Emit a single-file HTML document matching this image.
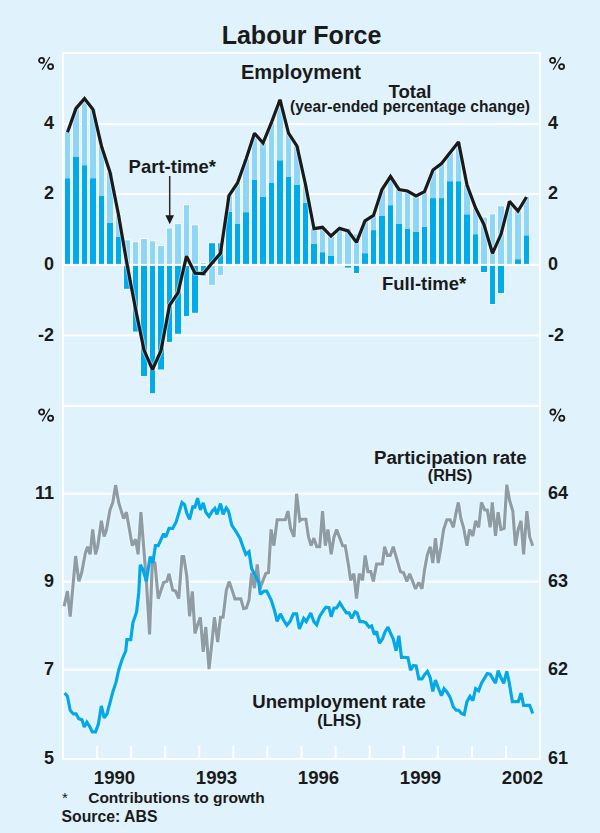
<!DOCTYPE html><html><head><meta charset="utf-8"><style>html,body{margin:0;padding:0;background:#E0F3FC}svg{display:block}text{font-family:"Liberation Sans",sans-serif;font-weight:bold;fill:#1A1A1A}</style></head><body>
<svg width="600" height="833" viewBox="0 0 600 833">
<rect x="0" y="0" width="600" height="833" fill="#E0F3FC"/>
<g fill="#FFFFFF"><rect x="62" y="52" width="479" height="2"/><rect x="62" y="123.1" width="479" height="2"/><rect x="62" y="193" width="479" height="2"/><rect x="62" y="334.4" width="479" height="2"/><rect x="62" y="404.9" width="479" height="2"/><rect x="62" y="492.7" width="479" height="2"/><rect x="62" y="580.7" width="479" height="2"/><rect x="62" y="668.7" width="479" height="2"/><rect x="62" y="758" width="479" height="2"/><rect x="61.9" y="52" width="2" height="708"/><rect x="539" y="52" width="2" height="708"/><rect x="96.05" y="745.9" width="2" height="12.1"/><rect x="130.13" y="745.9" width="2" height="12.1"/><rect x="164.21" y="745.9" width="2" height="12.1"/><rect x="198.29" y="745.9" width="2" height="12.1"/><rect x="232.37" y="745.9" width="2" height="12.1"/><rect x="266.45" y="745.9" width="2" height="12.1"/><rect x="300.53" y="745.9" width="2" height="12.1"/><rect x="334.61" y="745.9" width="2" height="12.1"/><rect x="368.69" y="745.9" width="2" height="12.1"/><rect x="402.77" y="745.9" width="2" height="12.1"/><rect x="436.85" y="745.9" width="2" height="12.1"/><rect x="470.93" y="745.9" width="2" height="12.1"/><rect x="505.01" y="745.9" width="2" height="12.1"/></g>
<g fill="#F4FAFE"><rect x="64" y="131.2" width="7" height="134.8"/><rect x="72" y="107.4" width="8" height="158.6"/><rect x="81" y="97.6" width="7" height="168.4"/><rect x="89" y="108.5" width="8" height="157.5"/><rect x="98" y="145.2" width="7" height="120.8"/><rect x="106" y="171.2" width="8" height="94.8"/><rect x="115" y="213.7" width="7" height="52.3"/><rect x="123" y="239.3" width="8" height="50.5"/><rect x="132" y="241.2" width="7" height="91.4"/><rect x="140" y="238.1" width="8" height="138.9"/><rect x="149" y="240.3" width="7" height="153.9"/><rect x="157" y="245.1" width="8" height="125.4"/><rect x="166" y="227.4" width="7" height="115.6"/><rect x="174" y="223.1" width="8" height="111.7"/><rect x="183" y="204.2" width="7" height="112.8"/><rect x="191" y="224.3" width="8" height="89.5"/><rect x="200" y="262" width="7" height="14.6"/><rect x="208" y="242.2" width="8" height="43.7"/><rect x="217" y="242.2" width="7" height="33.9"/><rect x="225" y="194.5" width="8" height="71.5"/><rect x="234" y="182" width="7" height="84"/><rect x="242" y="158.2" width="8" height="107.8"/><rect x="251" y="132.2" width="7" height="133.8"/><rect x="259" y="142" width="8" height="124"/><rect x="268" y="121.4" width="7" height="144.6"/><rect x="276" y="98.7" width="8" height="167.3"/><rect x="285" y="132.2" width="7" height="133.8"/><rect x="293" y="145.2" width="8" height="120.8"/><rect x="302" y="183.5" width="7" height="82.5"/><rect x="310" y="227.7" width="8" height="38.3"/><rect x="319" y="226.3" width="7" height="39.7"/><rect x="327" y="235" width="8" height="31"/><rect x="336" y="227.4" width="7" height="38.6"/><rect x="344" y="227.4" width="8" height="41.2"/><rect x="353" y="233.4" width="7" height="40.6"/><rect x="361" y="219.8" width="8" height="46.2"/><rect x="370" y="214.4" width="7" height="51.6"/><rect x="378" y="188.5" width="8" height="77.5"/><rect x="387" y="175.5" width="7" height="90.5"/><rect x="395" y="188.5" width="8" height="77.5"/><rect x="404" y="190" width="7" height="76"/><rect x="412" y="195" width="8" height="71"/><rect x="421" y="190.6" width="7" height="75.4"/><rect x="429" y="169" width="8" height="97"/><rect x="438" y="162.5" width="7" height="103.5"/><rect x="446" y="151.7" width="8" height="114.3"/><rect x="455" y="140.9" width="7" height="125.1"/><rect x="463" y="184.1" width="8" height="81.9"/><rect x="472" y="206.8" width="7" height="59.2"/><rect x="480" y="216.6" width="8" height="56.4"/><rect x="489" y="213.3" width="7" height="91.7"/><rect x="497" y="205.3" width="8" height="88.7"/><rect x="506" y="200.4" width="7" height="65.6"/><rect x="514" y="210" width="8" height="56"/><rect x="523" y="196" width="7" height="70"/></g>
<g fill="#00ABEC"><rect x="65" y="178.2" width="5" height="86.8"/><rect x="73" y="157" width="6" height="108"/><rect x="82" y="165.2" width="5" height="99.8"/><rect x="90" y="178.2" width="6" height="86.8"/><rect x="99" y="196" width="5" height="69"/><rect x="107" y="223" width="6" height="42"/><rect x="116" y="237" width="5" height="28"/><rect x="124" y="265" width="6" height="23.8"/><rect x="133" y="265" width="5" height="66.6"/><rect x="141" y="265" width="6" height="111"/><rect x="150" y="265" width="5" height="128.2"/><rect x="158" y="265" width="6" height="104.5"/><rect x="167" y="265" width="5" height="77"/><rect x="175" y="265" width="6" height="68.8"/><rect x="184" y="265" width="5" height="51"/><rect x="192" y="265" width="6" height="47.8"/><rect x="201" y="265" width="5" height="10.6"/><rect x="209" y="243.2" width="6" height="21.8"/><rect x="218" y="243.2" width="5" height="21.8"/><rect x="226" y="212" width="6" height="53"/><rect x="235" y="224" width="5" height="41"/><rect x="243" y="212.2" width="6" height="52.8"/><rect x="252" y="179.7" width="5" height="85.3"/><rect x="260" y="197" width="6" height="68"/><rect x="269" y="183" width="5" height="82"/><rect x="277" y="160.3" width="6" height="104.7"/><rect x="286" y="176.9" width="5" height="88.1"/><rect x="294" y="184.7" width="6" height="80.3"/><rect x="303" y="202.9" width="5" height="62.1"/><rect x="311" y="244" width="6" height="21"/><rect x="320" y="252.2" width="5" height="12.8"/><rect x="328" y="256" width="6" height="9"/><rect x="345" y="265" width="6" height="2.6"/><rect x="354" y="265" width="5" height="8"/><rect x="362" y="253.2" width="6" height="11.8"/><rect x="371" y="230.1" width="5" height="34.9"/><rect x="379" y="216" width="6" height="49"/><rect x="388" y="205.2" width="5" height="59.8"/><rect x="396" y="224" width="6" height="41"/><rect x="405" y="229" width="5" height="36"/><rect x="413" y="232" width="6" height="33"/><rect x="422" y="226.9" width="5" height="38.1"/><rect x="430" y="198.1" width="6" height="66.9"/><rect x="439" y="198.1" width="5" height="66.9"/><rect x="447" y="181.2" width="6" height="83.8"/><rect x="456" y="181.2" width="5" height="83.8"/><rect x="464" y="214.3" width="6" height="50.7"/><rect x="473" y="234.2" width="5" height="30.8"/><rect x="481" y="265" width="6" height="7"/><rect x="490" y="265" width="5" height="39"/><rect x="498" y="265" width="6" height="28"/><rect x="515" y="259.2" width="6" height="5.8"/><rect x="524" y="235.3" width="5" height="29.7"/></g>
<g fill="#8DD6F6"><rect x="65" y="132.2" width="5" height="46"/><rect x="73" y="108.4" width="6" height="48.6"/><rect x="82" y="98.6" width="5" height="66.6"/><rect x="90" y="109.5" width="6" height="68.7"/><rect x="99" y="146.2" width="5" height="49.8"/><rect x="107" y="172.2" width="6" height="50.8"/><rect x="116" y="214.7" width="5" height="22.3"/><rect x="124" y="240.3" width="6" height="24.7"/><rect x="133" y="242.2" width="5" height="22.8"/><rect x="141" y="239.1" width="6" height="25.9"/><rect x="150" y="241.3" width="5" height="23.7"/><rect x="158" y="246.1" width="6" height="18.9"/><rect x="167" y="228.4" width="5" height="36.6"/><rect x="175" y="224.1" width="6" height="40.9"/><rect x="184" y="205.2" width="5" height="59.8"/><rect x="192" y="225.3" width="6" height="39.7"/><rect x="201" y="263" width="5" height="2"/><rect x="209" y="265" width="6" height="19.9"/><rect x="218" y="265" width="5" height="10.1"/><rect x="226" y="195.5" width="6" height="16.5"/><rect x="235" y="183" width="5" height="41"/><rect x="243" y="159.2" width="6" height="53"/><rect x="252" y="133.2" width="5" height="46.5"/><rect x="260" y="143" width="6" height="54"/><rect x="269" y="122.4" width="5" height="60.6"/><rect x="277" y="99.7" width="6" height="60.6"/><rect x="286" y="133.2" width="5" height="43.7"/><rect x="294" y="146.2" width="6" height="38.5"/><rect x="303" y="184.5" width="5" height="18.4"/><rect x="311" y="228.7" width="6" height="15.3"/><rect x="320" y="227.3" width="5" height="24.9"/><rect x="328" y="236" width="6" height="20"/><rect x="337" y="228.4" width="5" height="36.6"/><rect x="345" y="228.4" width="6" height="36.6"/><rect x="354" y="234.4" width="5" height="30.6"/><rect x="362" y="220.8" width="6" height="32.4"/><rect x="371" y="215.4" width="5" height="14.7"/><rect x="379" y="189.5" width="6" height="26.5"/><rect x="388" y="176.5" width="5" height="28.7"/><rect x="396" y="189.5" width="6" height="34.5"/><rect x="405" y="191" width="5" height="38"/><rect x="413" y="196" width="6" height="36"/><rect x="422" y="191.6" width="5" height="35.3"/><rect x="430" y="170" width="6" height="28.1"/><rect x="439" y="163.5" width="5" height="34.6"/><rect x="447" y="152.7" width="6" height="28.5"/><rect x="456" y="141.9" width="5" height="39.3"/><rect x="464" y="185.1" width="6" height="29.2"/><rect x="473" y="207.8" width="5" height="26.4"/><rect x="481" y="217.6" width="6" height="47.4"/><rect x="490" y="214.3" width="5" height="50.7"/><rect x="498" y="206.3" width="6" height="58.7"/><rect x="507" y="201.4" width="5" height="63.6"/><rect x="515" y="211" width="6" height="48.2"/><rect x="524" y="197" width="5" height="38.3"/></g>
<rect x="62" y="263.9" width="478" height="2" fill="#FFFFFF"/>
<polyline fill="none" stroke="#F4FAFE" stroke-width="5" stroke-linejoin="miter" stroke-miterlimit="2" stroke-opacity="0.5" points="67.50,132.20 76.00,108.40 84.50,98.60 93.00,109.50 101.50,146.20 110.00,172.20 118.50,214.70 127.00,264.10 135.50,308.80 144.00,350.10 152.50,369.50 161.00,350.60 169.50,305.40 178.00,292.90 186.50,256.20 195.00,273.10 203.50,273.60 212.00,263.10 220.50,253.30 229.00,195.50 237.50,183.00 246.00,159.20 254.50,133.20 263.00,143.00 271.50,122.40 280.00,99.70 288.50,133.20 297.00,146.20 305.50,184.50 314.00,228.70 322.50,227.30 331.00,236.00 339.50,228.40 348.00,231.00 356.50,242.40 365.00,220.80 373.50,215.40 382.00,189.50 390.50,176.50 399.00,189.50 407.50,191.00 416.00,196.00 424.50,191.60 433.00,170.00 441.50,163.50 450.00,152.70 458.50,141.90 467.00,185.10 475.50,207.80 484.00,224.60 492.50,253.30 501.00,234.30 509.50,201.40 518.00,211.00 526.50,197.00"/>
<polyline fill="none" stroke="#1A1A1A" stroke-width="3.2" stroke-linejoin="miter" stroke-miterlimit="2" points="67.50,132.20 76.00,108.40 84.50,98.60 93.00,109.50 101.50,146.20 110.00,172.20 118.50,214.70 127.00,264.10 135.50,308.80 144.00,350.10 152.50,369.50 161.00,350.60 169.50,305.40 178.00,292.90 186.50,256.20 195.00,273.10 203.50,273.60 212.00,263.10 220.50,253.30 229.00,195.50 237.50,183.00 246.00,159.20 254.50,133.20 263.00,143.00 271.50,122.40 280.00,99.70 288.50,133.20 297.00,146.20 305.50,184.50 314.00,228.70 322.50,227.30 331.00,236.00 339.50,228.40 348.00,231.00 356.50,242.40 365.00,220.80 373.50,215.40 382.00,189.50 390.50,176.50 399.00,189.50 407.50,191.00 416.00,196.00 424.50,191.60 433.00,170.00 441.50,163.50 450.00,152.70 458.50,141.90 467.00,185.10 475.50,207.80 484.00,224.60 492.50,253.30 501.00,234.30 509.50,201.40 518.00,211.00 526.50,197.00"/>
<polyline fill="none" stroke="#F2F9FE" stroke-opacity="0.6" stroke-width="5.2" stroke-linejoin="miter" stroke-miterlimit="2" points="64.16,606.22 67.41,591.08 70.22,616.59 75.62,556.05 78.86,581.35 81.46,573.78 85.35,553.24 87.51,546.76 90.11,554.32 92.70,529.46 95.51,554.32 97.68,546.76 101.35,520.81 104.16,536.59 106.32,530.54 110.00,510.00 112.81,502.43 115.62,485.14 118.65,502.43 123.62,518.65 126.43,512.16 132.27,545.68 135.51,539.19 138.11,554.32 140.92,512.16 146.32,580.27 149.57,634.32 152.38,560.81 154.97,562.97 158.22,598.65 163.62,582.43 166.86,581.35 169.03,573.78 172.70,590.00 175.51,591.08 178.76,598.65 182.00,556.49 183.73,556.49 186.76,575.95 189.57,616.22 192.38,591.35 194.97,633.51 197.57,624.86 200.38,617.30 203.19,651.89 205.78,627.03 209.03,669.19 211.84,643.24 214.43,617.30 217.68,642.16 220.49,617.30 223.08,617.30 226.32,590.27 229.14,581.62 232.16,590.27 234.97,598.92 238.22,598.92 240.81,598.92 243.62,608.65 246.43,608.00 249.03,600.00 251.62,572.97 254.43,588.11 257.24,564.32 259.84,589.19 263.08,580.27 265.89,573.35 268.49,572.70 271.08,529.46 273.89,545.68 277.14,519.73 281.46,519.73 285.35,519.73 287.95,511.08 290.54,528.38 294.00,537.03 296.59,493.78 299.84,520.81 302.00,519.30 305.89,519.30 308.49,537.03 311.08,545.68 313.89,538.11 316.70,546.76 319.73,546.76 322.54,511.08 325.35,545.68 327.95,529.46 331.19,554.32 334.00,537.03 336.59,529.46 339.84,538.11 342.65,545.68 345.24,545.68 348.49,565.14 350.65,580.27 353.89,573.78 356.49,598.65 359.30,573.78 362.54,580.27 365.14,555.41 367.95,571.62 370.76,571.62 373.35,581.35 376.59,564.05 379.84,564.05 382.43,564.05 384.59,546.76 387.41,555.41 390.22,555.41 393.24,546.76 396.70,558.65 400.38,571.62 403.62,572.70 406.86,581.35 409.68,573.78 412.27,580.27 415.51,588.92 418.76,582.43 422.00,588.92 424.59,569.46 427.41,554.32 430.22,546.76 432.81,562.97 435.41,538.11 438.22,562.97 441.03,546.76 443.62,529.46 446.86,519.73 450.11,519.73 453.35,527.30 456.16,512.16 458.32,502.43 460.92,518.65 463.51,527.30 466.97,545.68 469.57,529.46 472.81,535.95 475.62,520.81 478.65,527.30 481.46,502.43 484.70,510.00 487.30,510.00 490.11,527.30 492.27,502.43 495.51,535.95 498.11,512.16 500.92,529.46 504.16,528.38 506.76,484.70 509.57,500.27 512.81,511.08 515.41,545.68 518.22,529.46 521.03,520.81 523.62,554.32 526.86,511.08 529.68,537.03 532.70,545.68"/>
<polyline fill="none" stroke="#F2F9FE" stroke-opacity="0.6" stroke-width="5.2" stroke-linejoin="miter" stroke-miterlimit="2" points="64.59,692.97 67.41,696.22 70.22,710.27 73.24,713.95 76.05,713.95 78.86,718.92 81.89,719.57 84.27,726.92 86.86,722.16 89.68,726.49 92.27,731.89 95.51,731.89 98.32,724.32 101.35,705.95 104.16,717.84 106.97,713.95 110.00,702.70 112.81,691.89 116.05,682.16 118.65,670.27 122.11,659.46 125.78,650.81 126.86,639.57 130.76,639.57 132.92,622.70 136.59,611.89 138.76,592.43 140.27,564.76 143.08,569.73 146.32,581.19 150.22,556.49 152.81,562.97 155.41,545.68 158.22,545.68 163.62,533.78 165.78,537.03 169.03,528.38 172.70,528.38 176.16,521.89 182.00,502.43 184.59,504.59 186.76,513.24 189.57,519.30 192.81,506.76 194.97,507.19 197.57,498.11 200.38,510.00 203.19,502.86 205.78,512.16 209.03,516.49 212.27,511.08 214.86,508.49 217.03,514.32 220.49,503.51 223.08,514.32 226.32,507.84 228.49,511.08 231.73,525.14 236.05,531.62 239.95,538.11 242.97,546.76 245.78,554.32 249.03,551.73 251.62,568.38 255.51,575.95 258.76,582.43 260.27,594.32 264.16,591.08 266.76,591.08 271.08,599.73 274.54,610.54 277.14,621.35 280.38,613.78 283.62,620.27 286.86,625.24 290.11,621.35 293.35,613.78 296.59,613.78 299.41,628.92 303.73,618.38 306.32,621.62 310.65,612.97 313.89,621.62 316.70,624.86 319.73,616.22 322.54,611.89 325.78,607.14 329.03,607.57 331.19,616.65 334.00,608.00 336.59,608.00 339.84,602.81 343.08,608.00 346.32,612.97 349.14,612.97 351.73,618.38 354.97,611.89 357.14,612.97 359.95,621.62 362.97,621.62 365.78,622.70 369.03,627.03 371.62,625.95 374.43,634.59 376.59,631.35 379.41,643.24 382.43,638.92 385.24,631.35 388.05,627.03 390.65,633.51 393.24,638.92 396.05,650.81 398.86,635.68 401.46,657.30 404.70,657.30 407.95,657.73 410.54,670.27 413.35,665.51 416.16,665.95 418.76,678.92 422.00,678.92 424.59,674.59 427.41,671.35 430.22,677.84 432.81,691.46 435.41,680.00 438.22,687.57 441.46,695.78 444.05,688.65 446.86,691.89 450.11,697.30 453.35,707.03 456.16,710.27 458.76,710.27 461.35,713.51 464.16,714.59 466.97,701.62 470.00,696.22 472.81,700.54 475.62,688.65 478.65,690.81 481.46,683.24 484.70,677.84 487.30,673.51 490.11,674.16 492.92,678.92 495.51,683.24 498.11,670.70 500.92,677.84 503.73,683.24 506.76,671.35 508.92,681.08 512.38,701.62 514.97,701.62 518.22,701.62 521.03,692.97 523.62,705.30 526.86,705.30 529.68,705.30 532.70,713.51"/>
<polyline fill="none" stroke="#8F9CA4" stroke-width="3.1" stroke-linejoin="miter" stroke-miterlimit="2" points="64.16,606.22 67.41,591.08 70.22,616.59 75.62,556.05 78.86,581.35 81.46,573.78 85.35,553.24 87.51,546.76 90.11,554.32 92.70,529.46 95.51,554.32 97.68,546.76 101.35,520.81 104.16,536.59 106.32,530.54 110.00,510.00 112.81,502.43 115.62,485.14 118.65,502.43 123.62,518.65 126.43,512.16 132.27,545.68 135.51,539.19 138.11,554.32 140.92,512.16 146.32,580.27 149.57,634.32 152.38,560.81 154.97,562.97 158.22,598.65 163.62,582.43 166.86,581.35 169.03,573.78 172.70,590.00 175.51,591.08 178.76,598.65 182.00,556.49 183.73,556.49 186.76,575.95 189.57,616.22 192.38,591.35 194.97,633.51 197.57,624.86 200.38,617.30 203.19,651.89 205.78,627.03 209.03,669.19 211.84,643.24 214.43,617.30 217.68,642.16 220.49,617.30 223.08,617.30 226.32,590.27 229.14,581.62 232.16,590.27 234.97,598.92 238.22,598.92 240.81,598.92 243.62,608.65 246.43,608.00 249.03,600.00 251.62,572.97 254.43,588.11 257.24,564.32 259.84,589.19 263.08,580.27 265.89,573.35 268.49,572.70 271.08,529.46 273.89,545.68 277.14,519.73 281.46,519.73 285.35,519.73 287.95,511.08 290.54,528.38 294.00,537.03 296.59,493.78 299.84,520.81 302.00,519.30 305.89,519.30 308.49,537.03 311.08,545.68 313.89,538.11 316.70,546.76 319.73,546.76 322.54,511.08 325.35,545.68 327.95,529.46 331.19,554.32 334.00,537.03 336.59,529.46 339.84,538.11 342.65,545.68 345.24,545.68 348.49,565.14 350.65,580.27 353.89,573.78 356.49,598.65 359.30,573.78 362.54,580.27 365.14,555.41 367.95,571.62 370.76,571.62 373.35,581.35 376.59,564.05 379.84,564.05 382.43,564.05 384.59,546.76 387.41,555.41 390.22,555.41 393.24,546.76 396.70,558.65 400.38,571.62 403.62,572.70 406.86,581.35 409.68,573.78 412.27,580.27 415.51,588.92 418.76,582.43 422.00,588.92 424.59,569.46 427.41,554.32 430.22,546.76 432.81,562.97 435.41,538.11 438.22,562.97 441.03,546.76 443.62,529.46 446.86,519.73 450.11,519.73 453.35,527.30 456.16,512.16 458.32,502.43 460.92,518.65 463.51,527.30 466.97,545.68 469.57,529.46 472.81,535.95 475.62,520.81 478.65,527.30 481.46,502.43 484.70,510.00 487.30,510.00 490.11,527.30 492.27,502.43 495.51,535.95 498.11,512.16 500.92,529.46 504.16,528.38 506.76,484.70 509.57,500.27 512.81,511.08 515.41,545.68 518.22,529.46 521.03,520.81 523.62,554.32 526.86,511.08 529.68,537.03 532.70,545.68"/>
<polyline fill="none" stroke="#02A9E9" stroke-width="3.2" stroke-linejoin="miter" stroke-miterlimit="2" points="64.59,692.97 67.41,696.22 70.22,710.27 73.24,713.95 76.05,713.95 78.86,718.92 81.89,719.57 84.27,726.92 86.86,722.16 89.68,726.49 92.27,731.89 95.51,731.89 98.32,724.32 101.35,705.95 104.16,717.84 106.97,713.95 110.00,702.70 112.81,691.89 116.05,682.16 118.65,670.27 122.11,659.46 125.78,650.81 126.86,639.57 130.76,639.57 132.92,622.70 136.59,611.89 138.76,592.43 140.27,564.76 143.08,569.73 146.32,581.19 150.22,556.49 152.81,562.97 155.41,545.68 158.22,545.68 163.62,533.78 165.78,537.03 169.03,528.38 172.70,528.38 176.16,521.89 182.00,502.43 184.59,504.59 186.76,513.24 189.57,519.30 192.81,506.76 194.97,507.19 197.57,498.11 200.38,510.00 203.19,502.86 205.78,512.16 209.03,516.49 212.27,511.08 214.86,508.49 217.03,514.32 220.49,503.51 223.08,514.32 226.32,507.84 228.49,511.08 231.73,525.14 236.05,531.62 239.95,538.11 242.97,546.76 245.78,554.32 249.03,551.73 251.62,568.38 255.51,575.95 258.76,582.43 260.27,594.32 264.16,591.08 266.76,591.08 271.08,599.73 274.54,610.54 277.14,621.35 280.38,613.78 283.62,620.27 286.86,625.24 290.11,621.35 293.35,613.78 296.59,613.78 299.41,628.92 303.73,618.38 306.32,621.62 310.65,612.97 313.89,621.62 316.70,624.86 319.73,616.22 322.54,611.89 325.78,607.14 329.03,607.57 331.19,616.65 334.00,608.00 336.59,608.00 339.84,602.81 343.08,608.00 346.32,612.97 349.14,612.97 351.73,618.38 354.97,611.89 357.14,612.97 359.95,621.62 362.97,621.62 365.78,622.70 369.03,627.03 371.62,625.95 374.43,634.59 376.59,631.35 379.41,643.24 382.43,638.92 385.24,631.35 388.05,627.03 390.65,633.51 393.24,638.92 396.05,650.81 398.86,635.68 401.46,657.30 404.70,657.30 407.95,657.73 410.54,670.27 413.35,665.51 416.16,665.95 418.76,678.92 422.00,678.92 424.59,674.59 427.41,671.35 430.22,677.84 432.81,691.46 435.41,680.00 438.22,687.57 441.46,695.78 444.05,688.65 446.86,691.89 450.11,697.30 453.35,707.03 456.16,710.27 458.76,710.27 461.35,713.51 464.16,714.59 466.97,701.62 470.00,696.22 472.81,700.54 475.62,688.65 478.65,690.81 481.46,683.24 484.70,677.84 487.30,673.51 490.11,674.16 492.92,678.92 495.51,683.24 498.11,670.70 500.92,677.84 503.73,683.24 506.76,671.35 508.92,681.08 512.38,701.62 514.97,701.62 518.22,701.62 521.03,692.97 523.62,705.30 526.86,705.30 529.68,705.30 532.70,713.51"/>
<line x1="169.7" y1="176" x2="169.7" y2="216" stroke="#2A2A2A" stroke-width="1.5"/>
<path d="M165.4,215.2 L174,215.2 L169.7,224.2 Z" fill="#1A1A1A"/>
<g transform="translate(38,56.8)" fill="none" stroke="#1A1A1A"><circle cx="3.6" cy="3.6" r="2.55" stroke-width="1.8"/><circle cx="12.6" cy="9.8" r="2.55" stroke-width="1.8"/><line x1="4.2" y1="13" x2="11.8" y2="0.2" stroke-width="1.15"/></g>
<g transform="translate(549,56.8)" fill="none" stroke="#1A1A1A"><circle cx="3.6" cy="3.6" r="2.55" stroke-width="1.8"/><circle cx="12.6" cy="9.8" r="2.55" stroke-width="1.8"/><line x1="4.2" y1="13" x2="11.8" y2="0.2" stroke-width="1.15"/></g>
<g transform="translate(38,408.4)" fill="none" stroke="#1A1A1A"><circle cx="3.6" cy="3.6" r="2.55" stroke-width="1.8"/><circle cx="12.6" cy="9.8" r="2.55" stroke-width="1.8"/><line x1="4.2" y1="13" x2="11.8" y2="0.2" stroke-width="1.15"/></g>
<g transform="translate(549.2,408.4)" fill="none" stroke="#1A1A1A"><circle cx="3.6" cy="3.6" r="2.55" stroke-width="1.8"/><circle cx="12.6" cy="9.8" r="2.55" stroke-width="1.8"/><line x1="4.2" y1="13" x2="11.8" y2="0.2" stroke-width="1.15"/></g>
<text x="221.7" y="43.8" font-size="25" text-anchor="start">Labour Force</text><text x="241" y="79.3" font-size="20" text-anchor="start">Employment</text><text x="388.5" y="97.5" font-size="18.6" text-anchor="start">Total</text><text x="290" y="111.6" font-size="15.6" text-anchor="start">(year-ended percentage change)</text><text x="128.6" y="172.9" font-size="18.5" text-anchor="start">Part-time*</text><text x="382" y="290" font-size="18.5" text-anchor="start">Full-time*</text><text x="54" y="128.5" font-size="18" text-anchor="end">4</text><text x="548" y="128.5" font-size="18" text-anchor="start">4</text><text x="54" y="198.5" font-size="18" text-anchor="end">2</text><text x="548" y="198.5" font-size="18" text-anchor="start">2</text><text x="54" y="269.5" font-size="18" text-anchor="end">0</text><text x="548" y="269.5" font-size="18" text-anchor="start">0</text><text x="54" y="340.5" font-size="18" text-anchor="end">-2</text><text x="548" y="340.5" font-size="18" text-anchor="start">-2</text><text x="54" y="498.5" font-size="18" text-anchor="end">11</text><text x="54" y="586.5" font-size="18" text-anchor="end">9</text><text x="54" y="674.5" font-size="18" text-anchor="end">7</text><text x="54" y="763.5" font-size="18" text-anchor="end">5</text><text x="548" y="498.5" font-size="18" text-anchor="start">64</text><text x="548" y="586.5" font-size="18" text-anchor="start">63</text><text x="548" y="674.5" font-size="18" text-anchor="start">62</text><text x="548" y="763.5" font-size="18" text-anchor="start">61</text><text x="374" y="464" font-size="18.7" text-anchor="start">Participation rate</text><text x="427.8" y="480.5" font-size="16" text-anchor="start">(RHS)</text><text x="252.3" y="707.5" font-size="18.6" text-anchor="start">Unemployment rate</text><text x="317.3" y="726" font-size="16.5" text-anchor="start">(LHS)</text><text x="114.5" y="783.8" font-size="18.6" text-anchor="middle">1990</text><text x="216.5" y="783.8" font-size="18.6" text-anchor="middle">1993</text><text x="318.5" y="783.8" font-size="18.6" text-anchor="middle">1996</text><text x="420.5" y="783.8" font-size="18.6" text-anchor="middle">1999</text><text x="522.5" y="783.8" font-size="18.6" text-anchor="middle">2002</text><text x="62" y="802.5" font-size="15" font-weight="normal" style="font-weight:normal">*</text><text x="88.2" y="803.3" font-size="15.5" text-anchor="start">Contributions to growth</text><text x="61.5" y="822" font-size="15.8" text-anchor="start">Source: ABS</text>
</svg></body></html>
